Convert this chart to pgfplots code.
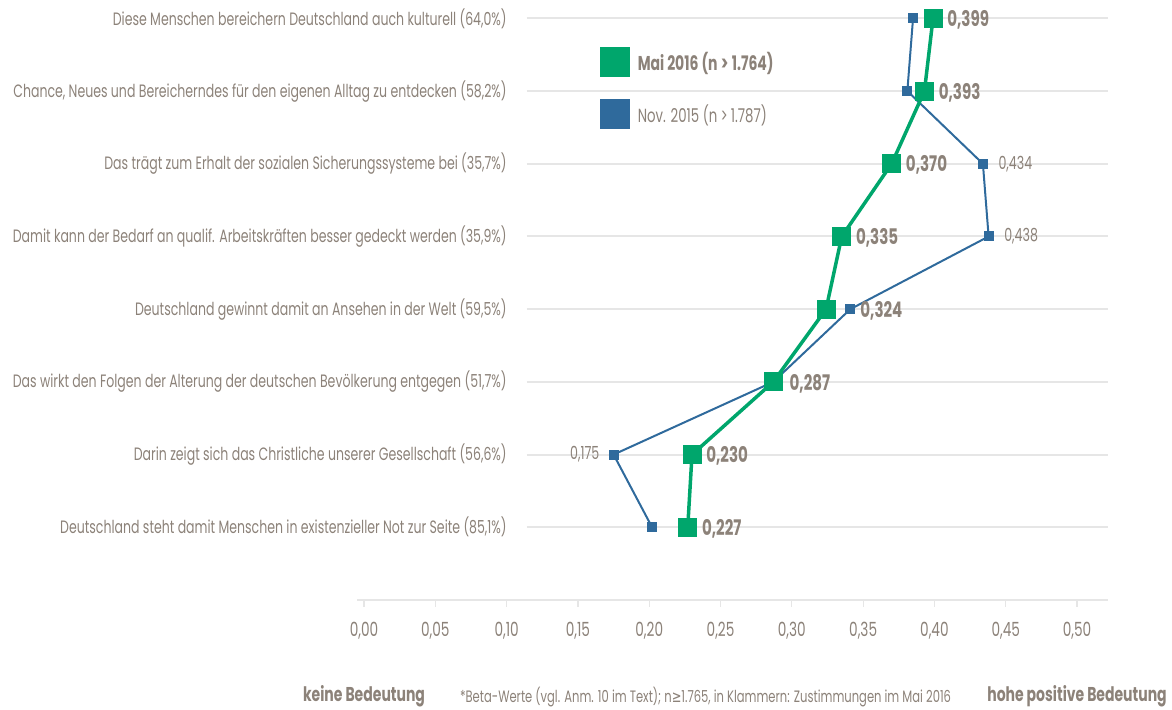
\documentclass[border=0pt]{standalone}
\usepackage{fontspec}
\setmainfont{Poppins}[FakeStretch=0.7]
\newfontfamily\symfont{DejaVu Sans}[FakeStretch=0.7]
\usepackage{pgfplots}
\usepackage{pgfplotstable}
\pgfplotsset{compat=1.18}

\definecolor{mgreen}{HTML}{00A66C}
\definecolor{nblue}{HTML}{2F6A9C}
\definecolor{txt}{HTML}{8C8279}
\definecolor{gridc}{HTML}{E6E6E6}

% Mai 2016; sh = extra shift of the value label
\pgfplotstableread{
x     y  sh
0.399 8  0
0.393 7  0
0.370 6  0
0.335 5  0
0.324 4  20
0.287 3  2
0.230 2  0
0.227 1  0
}\mai

% Nov. 2015
\pgfplotstableread{
x     y
0.385 8
0.381 7
0.434 6
0.438 5
0.341 4
0.287 3
0.175 2
0.202 1
}\nov

\begin{document}
\begin{tikzpicture}
\begin{axis}[
    scale only axis,
    width=751.5pt, height=600pt,
    xmin=-0.005, xmax=0.522,
    ymin=0, ymax=8.253,
    clip=false,
    axis x line=bottom,
    axis y line=none,
    axis line style={gridc, line width=2pt, -},
    xtick={0,0.05,0.1,0.15,0.2,0.25,0.3,0.35,0.4,0.45,0.5},
    xtick align=outside,
    major tick length=7pt,
    x tick style={gridc, line width=1.2pt},
    xticklabel style={text=txt, font=\fontsize{19.5}{22}\selectfont, yshift=-12pt},
    /pgf/number format/.cd, use comma, fixed, fixed zerofill, precision=2, assume math mode=true,
    /pgfplots/.cd,
]

% horizontal guide lines
\pgfplotsinvokeforeach{1,...,8}{
  \draw[gridc, line width=2pt] (axis cs:0.114,#1) -- (axis cs:0.522,#1);
}

% Nov. 2015
\addplot[nblue, line width=2pt, mark=square*, mark size=4.5pt,
  mark options={solid, fill=nblue, draw=nblue, line width=0pt}]
  table[x=x, y=y] {\nov};

% Mai 2016
\addplot[mgreen, line width=3.5pt, mark=square*, mark size=9pt,
  mark options={solid, fill=mgreen, draw=mgreen, line width=0pt},
  point meta=x,
  visualization depends on={\thisrow{sh} \as \labshift},
  nodes near coords={\pgfmathprintnumber[fixed, fixed zerofill, precision=3, use comma]{\pgfplotspointmeta}},
  every node near coord/.append style={anchor=west, xshift=11pt+\labshift pt, yshift=-1.5pt, text=txt,
      font=\bfseries\fontsize{21.5}{24}\selectfont}]
  table[x=x, y=y] {\mai};

% value labels of the earlier survey
\begin{scope}[every node/.style={text=txt, font=\fontsize{18}{20}\selectfont}]
\node[anchor=west] at (axis cs:0.4425,6) {0,434};
\node[anchor=west] at (axis cs:0.4465,5) {0,438};
\node[anchor=east] at (axis cs:0.1675,2) {0,175};
\end{scope}

% category labels
\begin{scope}[every node/.style={anchor=east, text=txt, font=\fontsize{17.9}{20}\selectfont}]
\node at (axis cs:0.1025,8) {Diese Menschen bereichern Deutschland auch kulturell (64,0\%)};
\node at (axis cs:0.1025,7) {Chance, Neues und Bereicherndes für den eigenen Alltag zu entdecken (58,2\%)};
\node at (axis cs:0.1025,6) {Das trägt zum Erhalt der sozialen Sicherungssysteme bei (35,7\%)};
\node at (axis cs:0.1025,5) {Damit kann der Bedarf an qualif. Arbeitskräften besser gedeckt werden (35,9\%)};
\node at (axis cs:0.1025,4) {Deutschland gewinnt damit an Ansehen in der Welt (59,5\%)};
\node at (axis cs:0.1025,3) {Das wirkt den Folgen der Alterung der deutschen Bevölkerung entgegen (51,7\%)};
\node at (axis cs:0.1025,2) {Darin zeigt sich das Christliche unserer Gesellschaft (56,6\%)};
\node at (axis cs:0.1025,1) {Deutschland steht damit Menschen in existenzieller Not zur Seite (85,1\%)};
\end{scope}

% legend
\fill[mgreen] (axis cs:0.1655,7.19) rectangle (axis cs:0.1865,7.60);
\fill[nblue] (axis cs:0.1655,6.48) rectangle (axis cs:0.1865,6.89);
\node[anchor=west, text=txt, font=\bfseries\fontsize{20}{22}\selectfont] at (axis cs:0.1895,7.38) {Mai 2016 (n\,>\,1.764)};
\node[anchor=west, text=txt, font=\fontsize{19}{22}\selectfont] at (axis cs:0.1895,6.67) {Nov. 2015 (n\,>\,1.787)};

% bottom captions
\node[text=txt, font=\bfseries\fontsize{20}{24}\selectfont] at (axis cs:0,-1.33) {keine Bedeutung};
\node[text=txt, font=\fontsize{16.5}{18}\selectfont] at (axis cs:0.2395,-1.33)
  {*Beta-Werte (vgl. Anm. 10 im Text); n{\symfont ≥}1.765, in Klammern: Zustimmungen im Mai 2016};
\node[text=txt, font=\bfseries\fontsize{20}{24}\selectfont] at (axis cs:0.5,-1.33) {hohe positive Bedeutung};

\coordinate (bl) at (axis cs:-0.2553,-1.513);
\coordinate (tr) at (axis cs:0.5666,8.253);
\end{axis}
\pgfresetboundingbox
\path[use as bounding box] (bl) rectangle (tr);
\end{tikzpicture}
\end{document}
